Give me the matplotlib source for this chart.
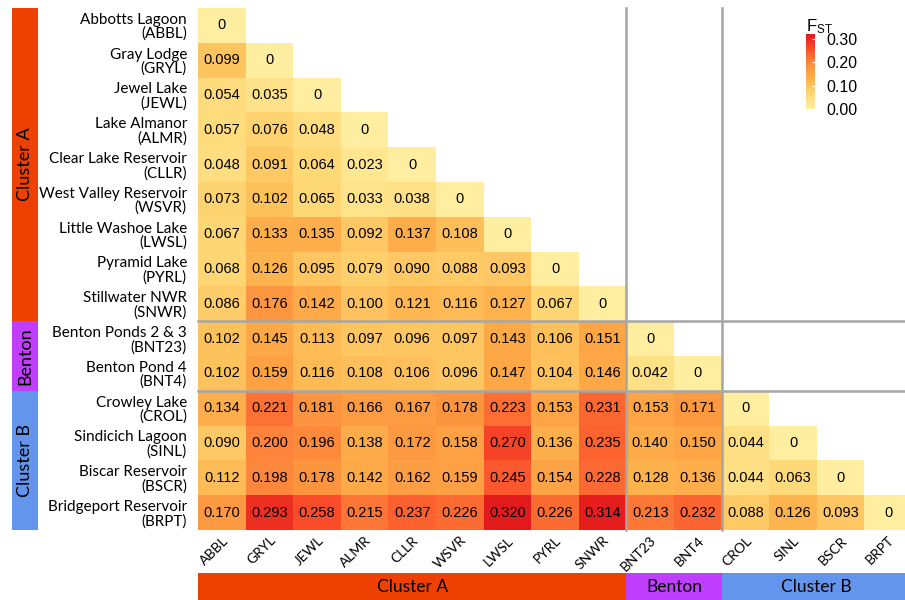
import numpy as np
import matplotlib
matplotlib.use("Agg")
import matplotlib.pyplot as plt
from matplotlib.colors import LinearSegmentedColormap
from matplotlib.patches import Rectangle

codes = ["ABBL", "GRYL", "JEWL", "ALMR", "CLLR", "WSVR", "LWSL", "PYRL", "SNWR",
         "BNT23", "BNT4", "CROL", "SINL", "BSCR", "BRPT"]
names = ["Abbotts Lagoon", "Gray Lodge", "Jewel Lake", "Lake Almanor",
         "Clear Lake Reservoir", "West Valley Reservoir", "Little Washoe Lake",
         "Pyramid Lake", "Stillwater NWR", "Benton Ponds 2 & 3", "Benton Pond 4",
         "Crowley Lake", "Sindicich Lagoon", "Biscar Reservoir", "Bridgeport Reservoir"]

fst_rows = [
    [0],
    [0.099, 0],
    [0.054, 0.035, 0],
    [0.057, 0.076, 0.048, 0],
    [0.048, 0.091, 0.064, 0.023, 0],
    [0.073, 0.102, 0.065, 0.033, 0.038, 0],
    [0.067, 0.133, 0.135, 0.092, 0.137, 0.108, 0],
    [0.068, 0.126, 0.095, 0.079, 0.090, 0.088, 0.093, 0],
    [0.086, 0.176, 0.142, 0.100, 0.121, 0.116, 0.127, 0.067, 0],
    [0.102, 0.145, 0.113, 0.097, 0.096, 0.097, 0.143, 0.106, 0.151, 0],
    [0.102, 0.159, 0.116, 0.108, 0.106, 0.096, 0.147, 0.104, 0.146, 0.042, 0],
    [0.134, 0.221, 0.181, 0.166, 0.167, 0.178, 0.223, 0.153, 0.231, 0.153, 0.171, 0],
    [0.090, 0.200, 0.196, 0.138, 0.172, 0.158, 0.270, 0.136, 0.235, 0.140, 0.150, 0.044, 0],
    [0.112, 0.198, 0.178, 0.142, 0.162, 0.159, 0.245, 0.154, 0.228, 0.128, 0.136, 0.044, 0.063, 0],
    [0.170, 0.293, 0.258, 0.215, 0.237, 0.226, 0.320, 0.226, 0.314, 0.213, 0.232, 0.088, 0.126, 0.093, 0],
]

groups = ["Cluster A", "Benton", "Cluster B"]
group_sizes = [9, 2, 4]
group_colors = ["#EE4000", "#BF3EFF", "#6495ED"]

label_font = ["Lato", "DejaVu Sans"]
num_font = ["Liberation Sans", "DejaVu Sans"]

W, H = 905, 600
fig = plt.figure(figsize=(W / 100, H / 100), dpi=100)

def px_axes(x0, y0, x1, y1):
    # pixel box (top-left origin) -> figure axes
    return fig.add_axes([x0 / W, 1 - y1 / H, (x1 - x0) / W, (y1 - y0) / H])

n = len(codes)
mat = np.full((n, n), np.nan)
for i, row in enumerate(fst_rows):
    mat[i, :len(row)] = row

cmap = LinearSegmentedColormap.from_list(
    "fst", ["#FFEDA0", "#FED976", "#FEB24C", "#FD8D3C", "#FC4E2A", "#E31A1C"])
vmin, vmax = 0.0, 0.32

# heatmap
hx0, hy0 = 198, 8
cw, ch = 47.6, 34.8
ax = px_axes(hx0, hy0, hx0 + cw * n, hy0 + ch * n)
mesh = ax.pcolormesh(np.arange(n + 1), np.arange(n + 1), np.ma.masked_invalid(mat),
                     cmap=cmap, vmin=vmin, vmax=vmax)
ax.set_xlim(0, n)
ax.set_ylim(n, 0)
for s in ax.spines.values():
    s.set_visible(False)
ax.set_xticks(np.arange(n) + 0.5)
ax.set_xticklabels(codes, rotation=45, ha="right", va="top", rotation_mode="anchor",
                   family=label_font, fontsize=10)
ax.set_yticks(np.arange(n) + 0.5)
ax.set_yticklabels([f"{nm}\n({c})" for nm, c in zip(names, codes)], ha="right",
                   family=label_font, fontsize=11, linespacing=1.0)
ax.tick_params(length=0, pad=8)
ax.tick_params(axis="x", pad=3)

for i, row in enumerate(fst_rows):
    for j, v in enumerate(row):
        txt = "0" if v == 0 else f"{v:.3f}"
        ax.text(j + 0.5, i + 0.5, txt, ha="center", va="center",
                family=num_font, fontsize=10.5, color="black")

# cluster separators
bounds = np.cumsum(group_sizes)[:-1]
for b in bounds:
    ax.axvline(b, color="#A6A6A6", lw=1.8, clip_on=False)
    ax.axhline(b, color="#A6A6A6", lw=1.8, clip_on=False)

# left cluster bar
axl = px_axes(12, hy0, 38, hy0 + ch * n)
axl.set_xlim(0, 1)
axl.set_ylim(n, 0)
axl.axis("off")
start = 0
for g, sz, col in zip(groups, group_sizes, group_colors):
    axl.add_patch(Rectangle((0, start), 1, sz, color=col, lw=0))
    axl.text(0.5, start + sz / 2, g, rotation=90, ha="center", va="center",
             family=label_font, fontsize=13)
    start += sz

# bottom cluster bar
axb = px_axes(hx0, 573, hx0 + cw * n, 600)
axb.set_xlim(0, n)
axb.set_ylim(0, 1)
axb.axis("off")
start = 0
for g, sz, col in zip(groups, group_sizes, group_colors):
    axb.add_patch(Rectangle((start, 0), sz, 1, color=col, lw=0))
    axb.text(start + sz / 2, 0.5, g, ha="center", va="center",
             family=label_font, fontsize=12.5)
    start += sz

# colour bar
cax = px_axes(806, 34, 815, 109)
cb = fig.colorbar(mesh, cax=cax, ticks=[0, 0.1, 0.2, 0.3])
cb.outline.set_visible(False)
cb.ax.set_yticklabels(["0.00", "0.10", "0.20", "0.30"], family=num_font, fontsize=11.5)
cb.ax.tick_params(length=2.5, color="white", direction="in", pad=8)
fig.text(806 / W, 1 - 27 / H, r"$\mathregular{F_{ST}}$", family=num_font,
         fontsize=12, ha="left", va="center")

fig.savefig("out.png", dpi=100)
